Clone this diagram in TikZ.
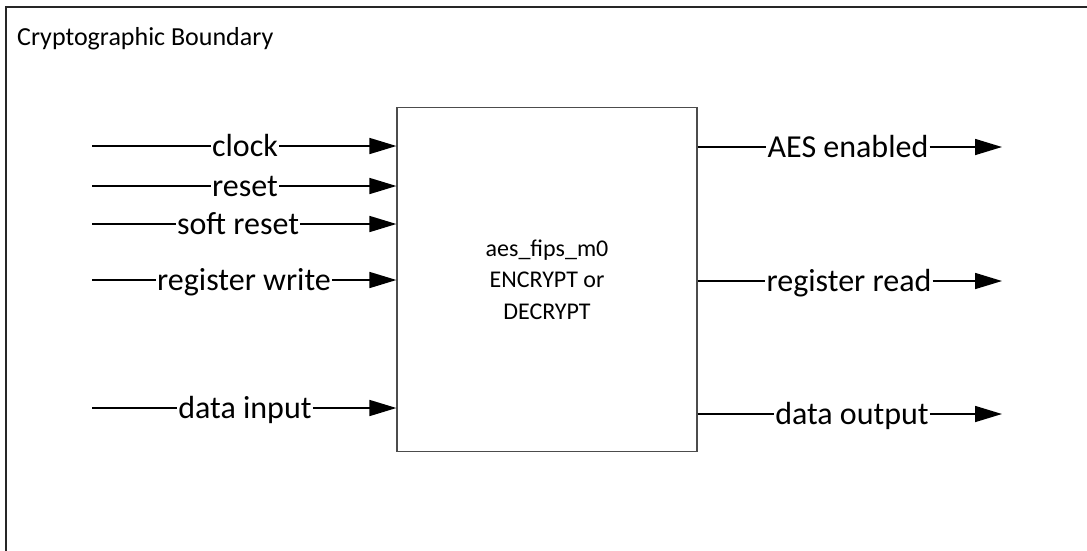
\documentclass[tikz,border=0pt]{standalone}
\usepackage{fontspec}
\setmainfont{Carlito}
\usetikzlibrary{arrows.meta,positioning}

\begin{document}
\begin{tikzpicture}[
  x=1pt, y=-1pt,
  blk/.style={draw=black!70, line width=1.2pt, minimum width=300pt, minimum height=344pt, align=center, font=\fontsize{24}{31.5}\selectfont},
  sig/.style={font=\fontsize{32}{38}\selectfont, inner xsep=1pt, inner ysep=0pt, text height=20pt, text depth=0pt},
  wire/.style={line width=1.6pt},
  arr/.style={wire, -{Triangle[length=27pt, width=16pt]}}
]
\useasboundingbox (0,0) rectangle (1087,550);

% boundary, runs off the page on the right and at the bottom
\draw[line width=2.2pt, draw=black!85] (1100,7) -- (6,7) -- (6,560);
\node[anchor=base west, font=\fontsize{26}{30}\selectfont, inner sep=0pt] (bnd) at (17,45) {Cryptographic Boundary};

\node[blk] (core) at (547,279.5) {aes\_fips\_m0\\ENCRYPT or\\DECRYPT};

% inputs
\coordinate (clk-in) at (92,146);
\coordinate (rst-in) at (92,186);
\coordinate (srst-in) at (92,224);
\coordinate (wr-in) at (92,280);
\coordinate (din-in) at (92,408);
\node[sig] (clk) at (245,146) {clock};
\node[sig] (rst) at (245,186) {reset};
\node[sig] (srst) at (238,224) {soft reset};
\node[sig] (wr) at (244,280) {register write};
\node[sig] (din) at (245,408) {data input};
\foreach \s in {clk,rst,srst,wr,din} {
  \draw[wire] (\s-in) -- (\s);
  \draw[arr] (\s) -- (\s -| core.west);
}

% outputs
\coordinate (en-out) at (1002,147);
\coordinate (rd-out) at (1002,281);
\coordinate (dout-out) at (1002,414);
\node[sig] (en) at (848,147) {AES enabled};
\node[sig] (rd) at (849,281) {register read};
\node[sig] (dout) at (852,414) {data output};
\foreach \s in {en,rd,dout} {
  \draw[wire] (\s -| core.east) -- (\s);
  \draw[arr] (\s) -- (\s-out);
}
\end{tikzpicture}
\end{document}
